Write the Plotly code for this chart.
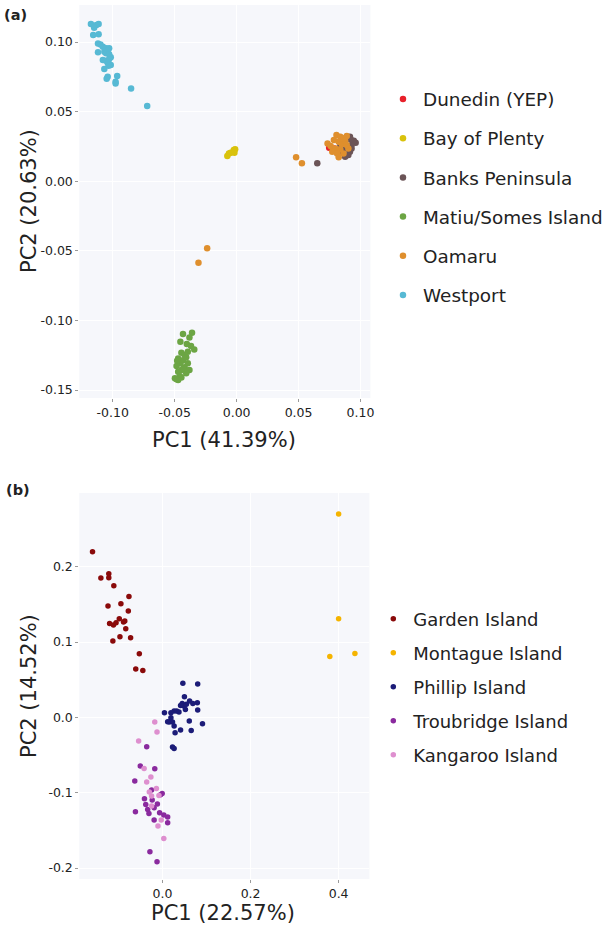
import plotly.graph_objects as go
from plotly.subplots import make_subplots

# ---------------- Panel (a) data ----------------
a_names = ["Dunedin (YEP)", "Bay of Plenty", "Banks Peninsula", "Matiu/Somes Island", "Oamaru", "Westport"]
a_colors = ["#e8202a", "#d9c20c", "#6b5457", "#6ca544", "#df8f2d", "#57b9d4"]

dunedin_x = [0.0747, 0.0790]
dunedin_y = [0.0241, 0.0236]

bop_x = [-0.0075, -0.0062, -0.0049, -0.0023, -0.0018, -0.0012]
bop_y = [0.0181, 0.0200, 0.0205, 0.0224, 0.0205, 0.0229]

banks_x = [0.0915, 0.0941, 0.0961, 0.0928, 0.0894, 0.0915, 0.0863, 0.0837, 0.0928,
           0.0902, 0.0876, 0.0850, 0.0946, 0.0920, 0.0651]
banks_y = [0.0320, 0.0284, 0.0277, 0.0260, 0.0236, 0.0212, 0.0224, 0.0260, 0.0236,
           0.0188, 0.0176, 0.0212, 0.0291, 0.0301, 0.0129]

matiu_x = [-0.0433, -0.0360, -0.0454, -0.0381, -0.0402, -0.0368, -0.0342, -0.0394, -0.0446,
           -0.0420, -0.0472, -0.0433, -0.0407, -0.0394, -0.0454, -0.0485, -0.0420, -0.0446,
           -0.0381, -0.0472, -0.0407, -0.0459, -0.0485, -0.0446, -0.0472, -0.0498, -0.0428, -0.0480]
matiu_y = [-0.1098, -0.1088, -0.1153, -0.1122, -0.1170, -0.1184, -0.1208, -0.1225, -0.1232,
           -0.1249, -0.1273, -0.1285, -0.1265, -0.1308, -0.1308, -0.1328, -0.1337, -0.1356,
           -0.1356, -0.1368, -0.1380, -0.1399, -0.1423, -0.1409, -0.1428, -0.1416, -0.1344, -0.1289]

oamaru_x = [0.0806, 0.0837, 0.0863, 0.0889, 0.0785, 0.0824, 0.0850, 0.0876, 0.0734, 0.0759,
            0.0798, 0.0837, 0.0772, 0.0811, 0.0863, 0.0824, 0.0902, 0.0889,
            0.0480, 0.0527, -0.0238, -0.0308]
oamaru_y = [0.0332, 0.0320, 0.0308, 0.0325, 0.0296, 0.0284, 0.0267, 0.0291, 0.0272, 0.0253,
            0.0236, 0.0229, 0.0212, 0.0200, 0.0200, 0.0172, 0.0236, 0.0260,
            0.0172, 0.0129, -0.0482, -0.0585]

westport_x = [-0.1176, -0.1132, -0.1114, -0.1150, -0.1158, -0.1114, -0.1119, -0.1099, -0.1080,
              -0.1054, -0.1029, -0.1041, -0.1068, -0.1119, -0.1054, -0.1029, -0.1016, -0.1080,
              -0.1054, -0.1029, -0.1041, -0.1016, -0.1034, -0.1068, -0.0964, -0.1041, -0.1049,
              -0.0977, -0.0977, -0.0852, -0.0722]
westport_y = [0.1129, 0.1122, 0.1129, 0.1103, 0.1050, 0.1055, 0.0990, 0.0983, 0.0966,
              0.0955, 0.0955, 0.0938, 0.0930, 0.0926, 0.0919, 0.0912, 0.0890, 0.0871,
              0.0866, 0.0876, 0.0851, 0.0835, 0.0830, 0.0806, 0.0756, 0.0751, 0.0737,
              0.0715, 0.0703, 0.0667, 0.0540]

a_x = [dunedin_x, bop_x, banks_x, matiu_x, oamaru_x, westport_x]
a_y = [dunedin_y, bop_y, banks_y, matiu_y, oamaru_y, westport_y]

a_xticks = [-0.10, -0.05, 0.00, 0.05, 0.10]
a_xticklabels = ["-0.10", "-0.05", "0.00", "0.05", "0.10"]
a_yticks = [-0.15, -0.10, -0.05, 0.00, 0.05, 0.10]
a_yticklabels = ["-0.15", "-0.10", "-0.05", "0.00", "0.05", "0.10"]

# ---------------- Panel (b) data ----------------
b_names = ["Garden Island", "Montague Island", "Phillip Island", "Troubridge Island", "Kangaroo Island"]
b_colors = ["#8a0a0a", "#f5b400", "#1c1c78", "#8a2a9e", "#de8fcf"]

garden_x = [-0.159, -0.140, -0.122, -0.122, -0.1106, -0.0762, -0.1238, -0.0945, -0.0777, -0.1202,
            -0.1114, -0.1055, -0.0982, -0.0886, -0.0857, -0.0835, -0.1128, -0.0967, -0.0725,
            -0.0527, -0.0608, -0.0447]
garden_y = [0.220, 0.185, 0.1908, 0.1855, 0.1749, 0.1607, 0.1479, 0.1510, 0.1412, 0.1248,
            0.1226, 0.1258, 0.1311, 0.1266, 0.1280, 0.1178, 0.1014, 0.1071, 0.1058,
            0.0846, 0.0642, 0.0624]

montague_x = [0.400, 0.400, 0.380, 0.437]
montague_y = [0.270, 0.131, 0.081, 0.085]

phillip_x = [0.0462, 0.0799, 0.0498, 0.0447, 0.0615, 0.0689, 0.0791, 0.0542, 0.0484, 0.0410,
             0.0264, 0.0322, 0.0374, 0.0520, 0.0799, 0.0044, 0.0154, 0.0191, 0.0227, 0.0117,
             0.0264, 0.0410, 0.0286, 0.0608, 0.0652, 0.0908, 0.0227, 0.0264, 0.0191]
phillip_y = [0.0452, 0.0443, 0.0275, 0.0186, 0.0217, 0.0186, 0.0195, 0.0173, 0.0150, 0.0159,
             0.0084, 0.0084, 0.0071, 0.0106, 0.0097, 0.0062, -0.0062, -0.0004, -0.0062, -0.0058,
             -0.0115, -0.0168, -0.0204, -0.0049, -0.0173, -0.0084, -0.0394, -0.0412, 0.0062]

troubridge_x = [-0.0359, -0.0505, -0.0176, -0.0630, -0.0249, -0.0007, -0.0044, -0.0410, -0.0234,
                -0.0117, -0.0381, -0.0190, -0.0337, -0.0615, -0.0308, -0.0066, 0.0029, 0.0117,
                -0.0190, 0.0117, -0.0286, -0.0125]
troubridge_y = [-0.0389, -0.0647, -0.0681, -0.0846, -0.0965, -0.1009, -0.1027, -0.1080, -0.1098,
                -0.1151, -0.1155, -0.1200, -0.1222, -0.1253, -0.1275, -0.1266, -0.1297, -0.1324,
                -0.1364, -0.1399, -0.1784, -0.1917]

kangaroo_x = [-0.0176, -0.0125, -0.0542, -0.0418, -0.0264, -0.0359, -0.0139, -0.0249, -0.0081,
              -0.0300, -0.0249, -0.0029, -0.0103, 0.0029]
kangaroo_y = [-0.0062, -0.0195, -0.0314, -0.0677, -0.0792, -0.0859, -0.0943, -0.1045, -0.1036,
              -0.0992, -0.1178, -0.1364, -0.1443, -0.1607]

b_x = [garden_x, montague_x, phillip_x, troubridge_x, kangaroo_x]
b_y = [garden_y, montague_y, phillip_y, troubridge_y, kangaroo_y]

b_xticks = [0.0, 0.2, 0.4]
b_xticklabels = ["0.0", "0.2", "0.4"]
b_yticks = [-0.2, -0.1, 0.0, 0.1, 0.2]
b_yticklabels = ["-0.2", "-0.1", "0.0", "0.1", "0.2"]

# ---------------- Figure ----------------
W, H = 608, 927
FONT = "DejaVu Sans"
BG = "#f6f7fb"

fig = make_subplots(rows=2, cols=1)

for i, (name, col, xs, ys) in enumerate(zip(a_names, a_colors, a_x, a_y)):
    fig.add_trace(go.Scatter(
        x=xs, y=ys, mode="markers", name=name, legend="legend",
        legendgroup="a%d" % i, legendrank=i + 1,
        marker=dict(color=col, size=6.5, line=dict(width=0)),
    ), row=1, col=1)

for i, (name, col, xs, ys) in enumerate(zip(b_names, b_colors, b_x, b_y)):
    fig.add_trace(go.Scatter(
        x=xs, y=ys, mode="markers", name=name, legend="legend2",
        legendgroup="b%d" % i, legendrank=i + 1,
        marker=dict(color=col, size=5.5, line=dict(width=0)),
    ), row=2, col=1)

axis_common = dict(
    showgrid=True, gridcolor="#ffffff", gridwidth=1, zeroline=False,
    showline=False, ticks="outside", ticklen=3, tickcolor="#9a9a9a",
    tickfont=dict(family=FONT, size=12.5, color="#222222"),
)

fig.update_xaxes(domain=[82 / W, 383 / W], range=[-0.127, 0.108],
                 tickvals=a_xticks, ticktext=a_xticklabels, **axis_common, row=1, col=1)
fig.update_yaxes(domain=[1 - 398 / H, 1 - 5 / H], range=[-0.1557, 0.1266],
                 tickvals=a_yticks, ticktext=a_yticklabels, **axis_common, row=1, col=1)
fig.update_xaxes(domain=[82 / W, 382 / W], range=[-0.189, 0.470],
                 tickvals=b_xticks, ticktext=b_xticklabels, **axis_common, row=2, col=1)
fig.update_yaxes(domain=[1 - 879 / H, 1 - 493 / H], range=[-0.2146, 0.298],
                 tickvals=b_yticks, ticktext=b_yticklabels, **axis_common, row=2, col=1)

ann = []
def add_text(text, x, y, size, bold=False, angle=0):
    ann.append(dict(
        text=("<b>%s</b>" % text) if bold else text, x=x / W, y=1 - y / H,
        xref="paper", yref="paper", showarrow=False, textangle=angle,
        xanchor="center", yanchor="middle",
        font=dict(family=FONT, size=size, color="#222222"),
    ))

add_text("(a)", 16, 15, 14.5, bold=True)
add_text("(b)", 19, 490, 14.5, bold=True)
add_text("PC1 (41.39%)", 232, 440, 21)
add_text("PC2 (20.63%)", 30, 201, 21, angle=-90)
add_text("PC1 (22.57%)", 231, 913, 21)
add_text("PC2 (14.52%)", 30, 686, 21, angle=-90)

legend_common = dict(
    xanchor="left", yanchor="middle", bgcolor="rgba(0,0,0,0)", borderwidth=0,
    itemclick=False,
)

fig.update_layout(
    width=W, height=H, margin=dict(l=0, r=0, t=0, b=0),
    paper_bgcolor="white", plot_bgcolor=BG,
    showlegend=True,
    legend=dict(x=396 / W, y=1 - 197.5 / H, tracegroupgap=12.3,
                font=dict(family=FONT, size=18.4, color="#222222"), **legend_common),
    legend2=dict(x=386 / W, y=1 - 687 / H, tracegroupgap=7.6,
                 font=dict(family=FONT, size=18, color="#222222"), **legend_common),
    annotations=ann,
)

fig.write_html("out.html", config={"displayModeBar": False},
               post_script="document.body.style.margin='0';document.body.style.padding='0';")
